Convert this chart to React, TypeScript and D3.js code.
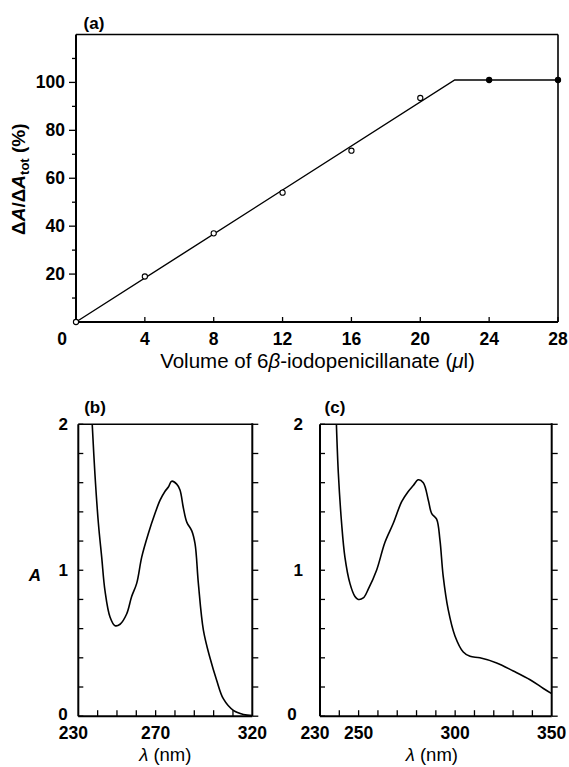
import React from 'react';
import * as d3 from 'd3';

// (a) titration
const volumeUl = [0, 4, 8, 12, 16, 20, 24, 28];
const deltaPct = [0, 19, 37, 54, 71.5, 93.5, 101, 101];
const pointFilled = [false, false, false, false, false, false, true, true];
const fitVolume = [0, 22, 28];
const fitPct = [0, 101, 101];
const xTicksA = [4, 8, 12, 16, 20, 24, 28];
const yTicksA = [20, 40, 60, 80, 100];
const yMinorA = [10, 30, 50, 70, 90, 110];

// (b) spectrum
const wlB = [237.2, 238.6, 240.4, 242.1, 243.8, 246.4, 249, 251.6, 255, 257.6, 260.2, 262.8, 266.2, 269.7, 272.3, 274.8, 276.6, 278.3, 280.9, 282.6, 284.3, 286.1, 288.7, 290.4, 292.1, 294.7, 298.1, 301.6, 305, 310.2, 315.4, 320];
const absB = [2, 1.66, 1.32, 1.09, 0.86, 0.68, 0.62, 0.63, 0.7, 0.82, 0.91, 1.09, 1.25, 1.39, 1.48, 1.54, 1.57, 1.61, 1.59, 1.55, 1.43, 1.33, 1.27, 1.18, 0.91, 0.59, 0.4, 0.245, 0.12, 0.04, 0.012, 0.005];

// (c) spectrum
const wlC = [238.5, 239.5, 241.2, 242.9, 245.5, 248.1, 249.8, 252.4, 255, 259.3, 263.6, 267.9, 272.3, 275.7, 278.3, 280.9, 283.5, 286.1, 287.8, 290.4, 292.1, 293.8, 296.4, 299.9, 304.2, 307.7, 312.8, 321.5, 330.1, 338.8, 345.7, 350];
const absC = [2, 1.665, 1.32, 1.09, 0.91, 0.82, 0.8, 0.81, 0.87, 1.0, 1.19, 1.32, 1.47, 1.54, 1.58, 1.62, 1.6, 1.48, 1.39, 1.35, 1.21, 0.96, 0.73, 0.55, 0.44, 0.41, 0.4, 0.365, 0.31, 0.25, 0.19, 0.155];

const FONT = '"Liberation Sans", Arial, Helvetica, sans-serif';

interface SpectrumProps {
  label: string;
  wl: number[];
  abs: number[];
  domain: [number, number];
  left: number;
  right: number;
  xLabels: number[];
  xLabelDx: number[];
  zeroX: number;
  yLabelX: number;
  titleX: number;
  lambdaDx: number;
  showA: boolean;
}

const Spectrum: React.FC<SpectrumProps> = ({ label, wl, abs, domain, left, right, xLabels, xLabelDx, zeroX, yLabelX, titleX, lambdaDx, showA }) => {
  const top = 424.3;
  const bottom = 716.2;
  const x = d3.scaleLinear().domain(domain).range([left, right]);
  const y = d3.scaleLinear().domain([0, 2]).range([bottom, top]);
  const pts = wl.map((w, i) => [w, abs[i]] as [number, number]);
  const line = d3.line<[number, number]>().x((d) => x(d[0])).y((d) => y(d[1])).curve(d3.curveCatmullRom.alpha(0.5));
  const yTicks = d3.range(0, 11).map((i) => i * 0.2);
  const xTicks = d3.range(domain[0] + 10, domain[1], 10);

  return (
    <g>
      <text x={titleX} y={413} textAnchor="middle" fontSize={17} fontWeight="bold">{label}</text>
      <path d={line(pts) ?? ''} fill="none" stroke="#000" strokeWidth={1.6} />
      <line x1={left} x2={right} y1={top} y2={top} stroke="#000" strokeWidth={1.6} />
      <line x1={left} x2={left} y1={top} y2={bottom} stroke="#000" strokeWidth={2} />
      <line x1={right} x2={right} y1={top - 1} y2={bottom} stroke="#000" strokeWidth={2} />
      <line x1={left} x2={right} y1={bottom} y2={bottom} stroke="#000" strokeWidth={2} />
      {yTicks.map((t) => (
        <g key={`y${t}`}>
          <line x1={left} x2={left + 5} y1={y(t)} y2={y(t)} stroke="#000" strokeWidth={1.3} />
          <line x1={right} x2={right + 6} y1={y(t)} y2={y(t)} stroke="#000" strokeWidth={1.3} />
        </g>
      ))}
      {xTicks.map((t) => (
        <line key={`x${t}`} x1={x(t)} x2={x(t)} y1={bottom} y2={bottom - 6} stroke="#000" strokeWidth={1.3} />
      ))}
      {[1, 2].map((t) => (
        <text key={`yl${t}`} x={yLabelX} y={y(t) + 6} textAnchor="end" fontSize={17} fontWeight="bold">{t}</text>
      ))}
      <text x={zeroX} y={bottom + 4} textAnchor="middle" fontSize={17} fontWeight="bold">0</text>
      {xLabels.map((t, i) => (
        <text key={`xl${t}`} x={x(t) + xLabelDx[i]} y={739} textAnchor="middle" fontSize={17.5} fontWeight="bold">{t}</text>
      ))}
      <text x={(left + right) / 2 + lambdaDx} y={761} textAnchor="middle" fontSize={18.5}>
        <tspan fontStyle="italic">λ</tspan> (nm)
      </text>
      {showA && (
        <text x={35} y={581} textAnchor="middle" fontSize={17} fontWeight="bold" fontStyle="italic">A</text>
      )}
    </g>
  );
};

const App: React.FC = () => {
  // panel (a) scales
  const xA = d3.scaleLinear().domain([0, 28]).range([76, 558]);
  const yA = d3.scaleLinear().domain([0, 120]).range([322, 34.5]);
  const fit = d3.line<number>().x((_, i) => xA(fitVolume[i])).y((d) => yA(d));

  return (
    <svg width={569} height={767} style={{ position: 'absolute', left: 0, top: 0, background: '#fff' }} fontFamily={FONT}>
      <rect width={569} height={767} fill="#fff" />
      {/* Panel (a) */}
      <text x={94} y={29} textAnchor="middle" fontSize={17} fontWeight="bold">(a)</text>
      <path d={fit(fitPct) ?? ''} fill="none" stroke="#000" strokeWidth={1.4} />
      <line x1={76} x2={558} y1={34.5} y2={34.5} stroke="#000" strokeWidth={1.6} />
      <line x1={558} x2={558} y1={34.5} y2={322} stroke="#000" strokeWidth={1.6} />
      <line x1={76} x2={76} y1={34.5} y2={322} stroke="#000" strokeWidth={2} />
      <line x1={76} x2={558} y1={322} y2={322} stroke="#000" strokeWidth={2} />
      {yTicksA.map((t) => (
        <g key={`ya${t}`}>
          <line x1={76} x2={69} y1={yA(t)} y2={yA(t)} stroke="#000" strokeWidth={1.3} />
          <text x={65} y={yA(t) + 6} textAnchor="end" fontSize={17.5} fontWeight="bold">{t}</text>
        </g>
      ))}
      {yMinorA.map((t) => (
        <line key={`ym${t}`} x1={76} x2={72} y1={yA(t)} y2={yA(t)} stroke="#000" strokeWidth={1.3} />
      ))}
      {xTicksA.map((t) => (
        <g key={`xa${t}`}>
          <line x1={xA(t)} x2={xA(t)} y1={322} y2={317} stroke="#000" strokeWidth={1.3} />
          <text x={xA(t)} y={345} textAnchor="middle" fontSize={17.5} fontWeight="bold">{t}</text>
        </g>
      ))}
      <text x={62} y={345} textAnchor="middle" fontSize={17.5} fontWeight="bold">0</text>
      {volumeUl.map((v, i) => (
        <circle key={`p${v}`} cx={xA(v)} cy={yA(deltaPct[i])} r={2.6} fill={pointFilled[i] ? '#000' : '#fff'} stroke="#000" strokeWidth={1.1} />
      ))}
      <text x={317.5} y={368} textAnchor="middle" fontSize={20.5}>
        Volume of 6<tspan fontStyle="italic">β</tspan>-iodopenicillanate (<tspan fontStyle="italic">μ</tspan>l)
      </text>
      <text transform="translate(25,235) rotate(-90)" textAnchor="start" fontSize={19} fontWeight="bold">
        Δ<tspan fontStyle="italic">A</tspan>/Δ<tspan fontStyle="italic">A</tspan>
        <tspan fontSize={13} dy={4}>tot</tspan>
        <tspan dy={-4}> (%)</tspan>
      </text>

      {/* Panel (b) */}
      <Spectrum label="(b)" wl={wlB} abs={absB} domain={[230, 320]} left={78.3} right={252.3}
        xLabels={[230, 270, 320]} xLabelDx={[-5, 0, 0]} zeroX={63} yLabelX={68} titleX={95} lambdaDx={0} showA />
      {/* Panel (c) */}
      <Spectrum label="(c)" wl={wlC} abs={absC} domain={[230, 350]} left={320} right={551.7}
        xLabels={[230, 250, 300, 350]} xLabelDx={[-5, 0, 0, 0]} zeroX={292} yLabelX={303} titleX={335} lambdaDx={-4} showA={false} />
    </svg>
  );
};

export default App;
